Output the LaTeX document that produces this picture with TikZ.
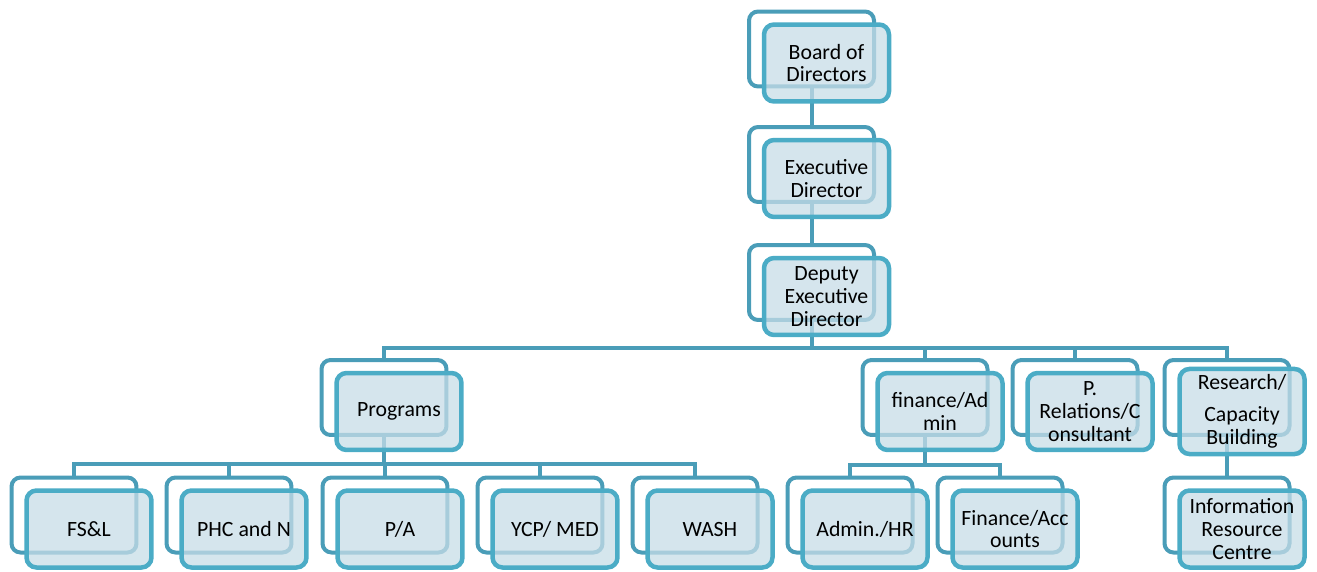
\documentclass[tikz,border=0pt]{standalone}
\usepackage{fontspec}
\setmainfont{Carlito}
\usetikzlibrary{positioning,backgrounds}
\definecolor{framecol}{HTML}{4A9DB8}
\definecolor{boxline}{HTML}{4BACC6}
\definecolor{boxfill}{HTML}{C7DDE7}
\tikzset{
	back/.style={draw=framecol,line width=0.08cm,fill=white,rounded corners=0.18cm,minimum width=2.5cm,minimum height=1.5cm},
	front/.style={draw=boxline,line width=0.09cm,fill=boxfill,fill opacity=0.75,text opacity=1,rounded corners=0.2cm,minimum width=2.5cm,minimum height=1.54cm,align=center,font=\fontsize{12.4}{13}\selectfont},
	link/.style={draw=framecol,line width=0.08cm}
}
\begin{document}
\begin{tikzpicture}[x=0.02cm,y=-0.02cm]
		\useasboundingbox (0,0) rectangle (1317,571);
		% back frames
		\node[back] (bod) at (811.5,49) {};
		\node[back] (exe) at (811.5,164.5) {};
		\node[back] (dep) at (811.5,282.5) {};
		\node[back] (prog) at (384,397.5) {};
		\node[back] (fin) at (925,397.5) {};
		\node[back] (pr) at (1075,397.5) {};
		\node[back] (res) at (1227,397.5) {};
		\node[back] (fsl) at (74,515) {};
		\node[back] (phc) at (229,515) {};
		\node[back] (pa) at (385,515) {};
		\node[back] (ycp) at (540,515) {};
		\node[back] (wash) at (695,515) {};
		\node[back] (adm) at (850,515) {};
		\node[back] (acc) at (1000,515) {};
		\node[back] (irc) at (1227,515) {};
		% front boxes
		\node[front] (bodF) at ([shift={(15,14)}]bod) {Board of\\Directors};
		\node[front] (exeF) at ([shift={(15,14)}]exe) {Executive\\Director};
		\node[front] (depF) at ([shift={(15,14)}]dep) {Deputy\\Executive\\Director};
		\node[front] (progF) at ([shift={(15,14)}]prog) {Programs};
		\node[front] (finF) at ([shift={(15,14)}]fin) {finance/Ad\\min};
		\node[front] (prF) at ([shift={(15,14)}]pr) {P.\\Relations/C\\onsultant};
		\node[front] (resF) at ([shift={(15,14)}]res) {Research/\\[5pt]Capacity\\Building};
		\node[front] (fslF) at ([shift={(15,14)}]fsl) {FS\&L};
		\node[front] (phcF) at ([shift={(15,14)}]phc) {PHC and N};
		\node[front] (paF) at ([shift={(15,14)}]pa) {P/A};
		\node[front] (ycpF) at ([shift={(15,14)}]ycp) {YCP/ MED};
		\node[front] (washF) at ([shift={(15,14)}]wash) {WASH};
		\node[front] (admF) at ([shift={(15,14)}]adm) {Admin./HR};
		\node[front] (accF) at ([shift={(15,14)}]acc) {Finance/Acc\\ounts};
		\node[front] (ircF) at ([shift={(15,14)}]irc) {Information\\Resource\\Centre};
		% connectors, under the boxes
		\coordinate (depbar) at (811.5,348);
		\coordinate (progbar) at (384,464);
		\coordinate (finbar) at (925,465);
		\begin{pgfonlayer}{background}
			\draw[link] (bod.center) -- (exe.center);
			\draw[link] (exe.center) -- (dep.center);
			\draw[link] (dep.center) -- (depbar);
			\foreach \c in {prog,fin,pr,res}
				\draw[link] (depbar) -| (\c.center);
			\draw[link] (prog.center) -- (progbar);
			\foreach \c in {fsl,phc,pa,ycp,wash}
				\draw[link] (progbar) -| (\c.center);
			\draw[link] (fin.center) -- (finbar);
			\foreach \c in {adm,acc}
				\draw[link] (finbar) -| (\c.center);
			\draw[link] (res.center) -- (irc.center);
		\end{pgfonlayer}
	\end{tikzpicture}
\end{document}
